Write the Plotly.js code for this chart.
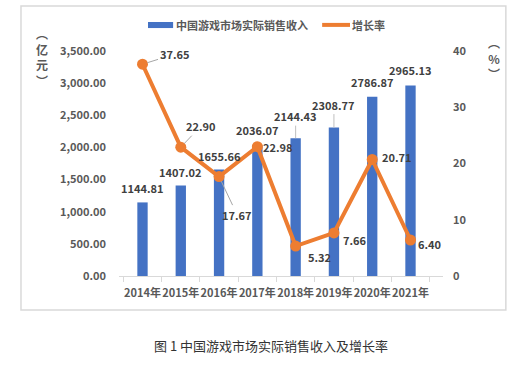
<!DOCTYPE html>
<html>
<head>
<meta charset="utf-8">
<script src="https://cdn.plot.ly/plotly-3.0.1.min.js"></script>
<style>
html,body{margin:0;padding:0;background:#fff;}
#chart{width:531px;height:367px;}
</style>
</head>
<body>
<div id="chart"></div>
<script>
// ---- data ----
const years = ['2014年','2015年','2016年','2017年','2018年','2019年','2020年','2021年'];
const revenue = [1144.81, 1407.02, 1655.66, 2036.07, 2144.43, 2308.77, 2786.87, 2965.13];
const growth = [37.65, 22.90, 17.67, 22.98, 5.32, 7.66, 20.71, 6.40];
const revenueName = '中国游戏市场实际销售收入';
const growthName = '增长率';
const leftTitle = '︵<br>亿<br>元<br>︶';
const rightTitle = '︵<br>%<br>︶';
const caption = '图 1 中国游戏市场实际销售收入及增长率';
const leftTicks = [0, 500, 1000, 1500, 2000, 2500, 3000, 3500];
const rightTicks = [0, 10, 20, 30, 40];

// ---- label placement (style only) ----
const revLabelPos = [
  {dy:14},{dy:14},{dy:14},{dy:15},
  {leader:true, ax:0, ay:-22},{leader:true, ax:0, ay:-23},
  {dy:15},{dy:15}
];
const growthLabelPos = [
  {leader:true, ax:32, ay:-10},
  {leader:true, ax:20, ay:-21},
  {leader:true, ax:18, ay:38},
  {dx:21, dy:0},
  {dx:24, dy:-11},
  {dx:21, dy:-7},
  {dx:25, dy:3},
  {dx:19, dy:-4}
];

const FONT = '"Noto Sans CJK SC", "Noto Sans", sans-serif';
const BLUE = '#4472C4', ORANGE = '#ED7D31';
const FS = 11;
const labelFont = {family: FONT, size: FS, color: '#404040', weight: 'bold'};
const tickFont = {family: FONT, size: FS, color: '#595959', weight: 'bold'};

const traces = [
  {type:'bar', x: years, y: revenue, name: revenueName, marker:{color: BLUE}, width: 0.27, hoverinfo:'skip'},
  {type:'scatter', mode:'lines+markers', x: years, y: growth, yaxis:'y2', name: growthName,
   line:{color: ORANGE, width: 4}, marker:{color: ORANGE, size: 11}, hoverinfo:'skip'}
];

const annotations = [];
revenue.forEach((v, i) => {
  const p = revLabelPos[i];
  const a = {x: years[i], y: v, xref:'x', yref:'y', text: v.toFixed(2), font: labelFont};
  if (p.leader) {
    Object.assign(a, {showarrow:true, arrowhead:0, arrowwidth:1, arrowcolor:'#bfbfbf', ax:p.ax, ay:p.ay, standoff:0});
  } else {
    Object.assign(a, {showarrow:false, yshift:p.dy});
  }
  annotations.push(a);
});
growth.forEach((v, i) => {
  const p = growthLabelPos[i];
  const a = {x: years[i], y: v, xref:'x', yref:'y2', text: v.toFixed(2), font: labelFont};
  if (p.leader) {
    Object.assign(a, {showarrow:true, arrowhead:0, arrowwidth:1, arrowcolor:'#a6a6a6', ax:p.ax, ay:p.ay, standoff:5});
  } else {
    Object.assign(a, {showarrow:false, xshift:p.dx, yshift:p.dy});
  }
  annotations.push(a);
});

const sideFont = {family:FONT, size:12, color:'#595959', weight:'bold'};
const legFont = {family:FONT, size:11, color:'#595959', weight:'bold'};
// axis titles (vertical), legend texts, caption
annotations.push({xref:'paper', yref:'paper', x:-0.238, y:0.975, text:leftTitle, showarrow:false,
  font:sideFont, align:'center', xanchor:'center', yanchor:'middle'});
annotations.push({xref:'paper', yref:'paper', x:1.158, y:0.97, text:rightTitle, showarrow:false,
  font:sideFont, align:'center', xanchor:'center', yanchor:'middle'});
annotations.push({xref:'paper', yref:'paper', x:0.17, y:1.116, xanchor:'left', yanchor:'middle', text:revenueName, showarrow:false,
  font:legFont});
annotations.push({xref:'paper', yref:'paper', x:0.714, y:1.116, xanchor:'left', yanchor:'middle', text:growthName, showarrow:false,
  font:legFont});
annotations.push({xref:'paper', yref:'paper', x:0.47, y:-0.307, xanchor:'center', yanchor:'middle', text:caption, showarrow:false,
  font:{family:FONT, size:13, color:'#333333'}});

const shapes = [
  {type:'rect', xref:'paper', yref:'paper', x0:-0.3025, x1:1.194, y0:-0.151, y1:1.2,
   line:{color:'#d9d9d9', width:1.5}, layer:'below'},
  {type:'rect', xref:'paper', yref:'paper', x0:0.0895, x1:0.167, y0:1.102, y1:1.129,
   line:{width:0}, fillcolor: BLUE},
  {type:'line', xref:'paper', yref:'paper', x0:0.627, x1:0.713, y0:1.116, y1:1.116,
   line:{color: ORANGE, width:4}}
];

const layout = {
  width: 531, height: 367, autosize:false,
  margin:{l:119, r:88, t:51, b:91},
  paper_bgcolor:'#ffffff', plot_bgcolor:'rgba(0,0,0,0)',
  showlegend:false,
  font:{family:FONT, color:'#595959'},
  xaxis:{type:'category', showline:true, linecolor:'#d9d9d9', linewidth:1,
    ticks:'outside', tickson:'boundaries', ticklen:5, tickcolor:'#d9d9d9',
    showgrid:false, zeroline:false, tickangle:0, automargin:false, ticklabelstandoff:7,
    tickfont:tickFont},
  yaxis:{range:[0,3500], tickvals:leftTicks, tickformat:',.2f', showgrid:false, zeroline:false,
    showline:false, ticks:'', ticklabelstandoff:12, automargin:false,
    tickfont:tickFont},
  yaxis2:{range:[0,40], tickvals:rightTicks, overlaying:'y', side:'right', showgrid:false,
    zeroline:false, showline:false, ticks:'', ticklabelstandoff:9, automargin:false,
    tickfont:tickFont},
  annotations: annotations,
  shapes: shapes
};

Plotly.newPlot('chart', traces, layout, {displayModeBar:false, staticPlot:true});
</script>
</body>
</html>
